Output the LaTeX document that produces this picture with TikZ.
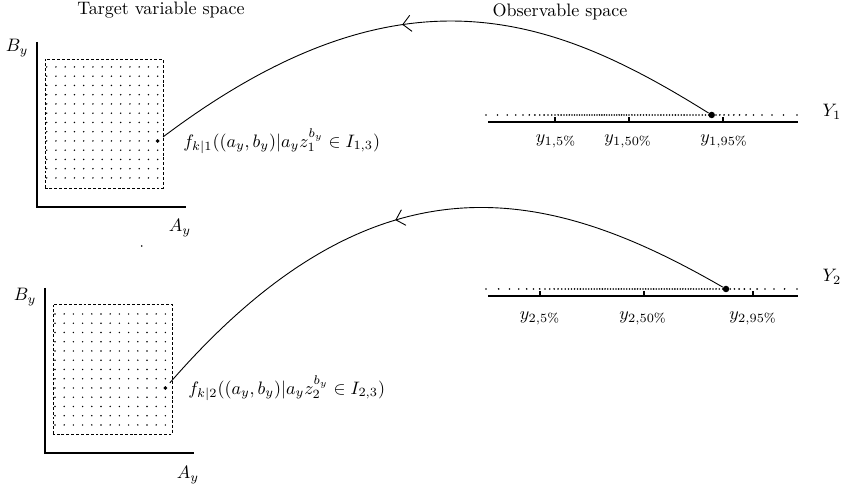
\documentclass[tikz,border=0pt]{standalone}
\usepackage{amsmath}
\usepackage{tikz}
\usetikzlibrary{arrows.meta,decorations.markings}

\tikzset{
  axis/.style={line width=1.2pt},
  support/.style={dash pattern=on 1.6pt off 1.1pt, line width=0.4pt},
  target_pt/.style={circle, fill, inner sep=0pt, minimum size=2.2pt, outer sep=2.6pt},
  obs_pt/.style={circle, fill, inner sep=0pt, minimum size=3.6pt},
  tick_mark/.style={line width=0.8pt},
  link/.style={line width=0.5pt,
    decoration={markings, mark=at position 0.55 with {\arrow{Straight Barb[length=4.5pt,width=9pt]}}},
    postaction={decorate}}
}

\begin{document}
\begin{tikzpicture}[x=0.0195cm, y=0.0195cm]
  \useasboundingbox (0,0) rectangle (844,486);

  % titles
  \node (tvs) at (161,476) {Target variable space};
  \node (obs) at (560,474) {Observable space};

  % --- first target space
  \draw[axis] (37,444) -- (37,279) -- (186,279);
  \node (b1) at (17,438) {$B_y$};
  \node (a1) at (180,258) {$A_y$};
  \draw[support] (45,298) rectangle (163,427);
  \foreach \i in {0,...,12}
    \foreach \j in {0,...,12}
      \fill (46.7+9.25*\i, 419-9.25*\j) circle (0.45pt);
  \node[target_pt] (t1) at (157.7,345) {};
  \node[anchor=west] (f1) at (177,345) {$f_{k|1}((a_y,b_y)|a_y z_1^{b_y} \in I_{1,3})$};

  % --- second target space
  \draw[axis] (45,198) -- (45,33) -- (194,33);
  \node (b2) at (25,189) {$B_y$};
  \node (a2) at (188,11) {$A_y$};
  \draw[support] (53,52) rectangle (172,182);
  \foreach \i in {0,...,12}
    \foreach \j in {0,...,12}
      \fill (55+9.2*\i, 172-9.25*\j) circle (0.45pt);
  \node[target_pt] (t2) at (165.4,98) {};
  \node[anchor=west] (f2) at (182,98) {$f_{k|2}((a_y,b_y)|a_y z_2^{b_y} \in I_{2,3})$};

  \fill (141.7,240) circle (0.5pt);

  % --- first observable
  \draw[axis] (488,364) -- (798,364);
  \foreach \x in {555,629,723}
    \draw[tick_mark] (\x,364) -- (\x,368.5);
  \foreach \i in {-40,...,40} {
    \pgfmathsetmacro\t{\i/40}
    \pgfmathsetmacro\f{0.69*\t+0.31*\t*((\t)*(\t))^4}
    \pgfmathsetmacro\xx{629+\f*ifthenelse(\f<0,143,168)}
    \fill (\xx,371) circle (0.5pt);
  }
  \node (q15) at (556,345) {$y_{1,5\%}$};
  \node (q150) at (628,345) {$y_{1,50\%}$};
  \node (q195) at (724,345) {$y_{1,95\%}$};
  \node (y1) at (832,374) {$Y_1$};
  \node[obs_pt] (o1) at (711.7,371) {};

  % --- second observable
  \draw[axis] (488,190) -- (798,190);
  \foreach \x in {540,644,753}
    \draw[tick_mark] (\x,190) -- (\x,194.5);
  \foreach \i in {-40,...,40} {
    \pgfmathsetmacro\t{\i/40}
    \pgfmathsetmacro\f{0.69*\t+0.31*\t*((\t)*(\t))^4}
    \pgfmathsetmacro\xx{643+\f*ifthenelse(\f<0,157,154)}
    \fill (\xx,197) circle (0.5pt);
  }
  \node (q25) at (540,168) {$y_{2,5\%}$};
  \node (q250) at (643,168) {$y_{2,50\%}$};
  \node (q295) at (753,168) {$y_{2,95\%}$};
  \node (y2) at (832,209) {$Y_2$};
  \node[obs_pt] (o2) at (726,197) {};

  % back maps
  \draw[link] (o1) to[out=148,in=37,out looseness=0.85,in looseness=1.4] (t1);
  \draw[link] (o2) to[out=150,in=49,out looseness=0.9,in looseness=1.45] (t2);
\end{tikzpicture}
\end{document}
